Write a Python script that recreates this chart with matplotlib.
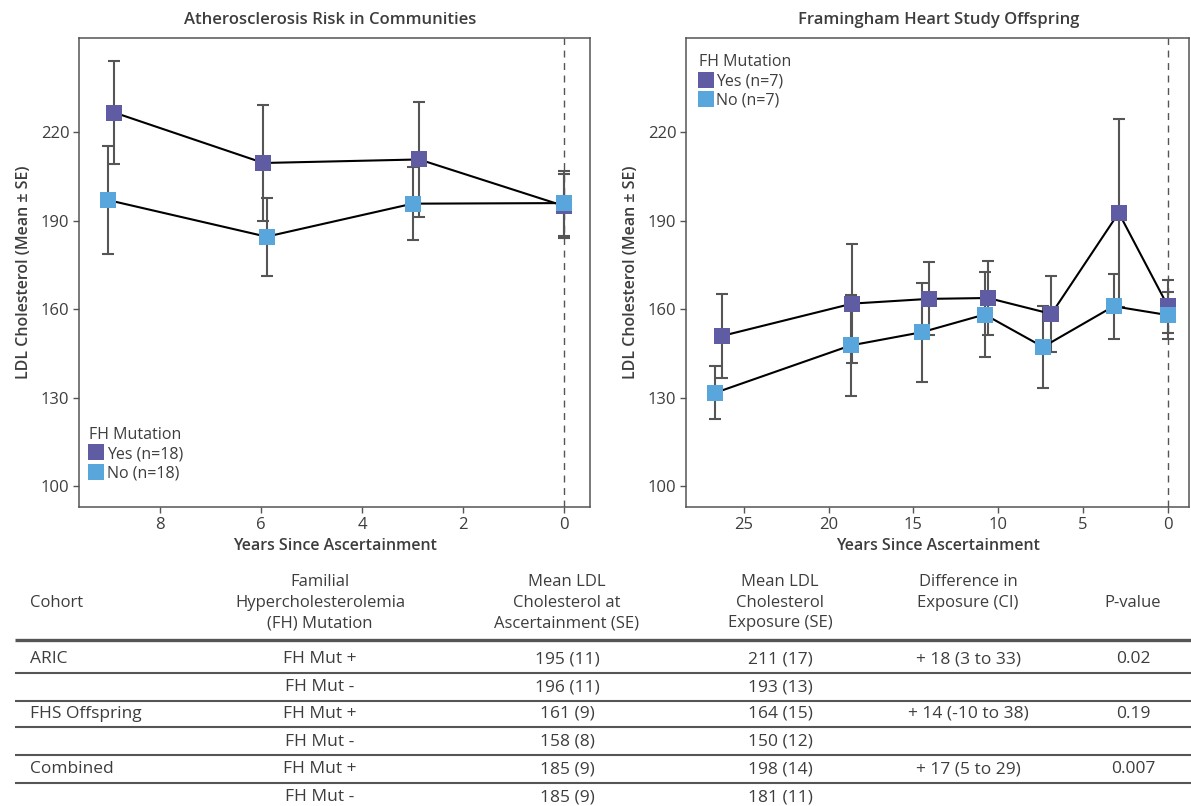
import matplotlib
matplotlib.use("Agg")
import matplotlib.pyplot as plt
from matplotlib.lines import Line2D

plt.rcParams['font.family'] = ['Open Sans', 'DejaVu Sans']

# ---------------- data ----------------
aric_years_yes = [8.9, 5.95, 2.87, 0]
aric_ldl_yes = [226.7, 209.6, 210.8, 195]
aric_se_yes = [17.4, 19.8, 19.6, 11]
aric_years_no = [9.02, 5.89, 3.0, 0]
aric_ldl_no = [197.0, 184.6, 195.8, 196]
aric_se_no = [18.2, 13.2, 12.3, 11]

fhs_years_yes = [26.3, 18.6, 14.1, 10.6, 6.87, 2.9, 0]
fhs_ldl_yes = [150.9, 161.9, 163.5, 163.8, 158.4, 192.7, 161]
fhs_se_yes = [14.3, 20.3, 12.4, 12.5, 12.8, 31.8, 9]
fhs_years_no = [26.7, 18.7, 14.5, 10.8, 7.36, 3.2, 0]
fhs_ldl_no = [131.6, 147.7, 152.2, 158.2, 147.2, 161.0, 158]
fhs_se_no = [9, 17, 16.8, 14.3, 13.8, 11.1, 8]

aric_xticks = [8, 6, 4, 2, 0]
fhs_xticks = [25, 20, 15, 10, 5, 0]
yticks = [100, 130, 160, 190, 220]

aric_labels = ["Yes (n=18)", "No (n=18)"]
fhs_labels = ["Yes (n=7)", "No (n=7)"]

table_header = [
    ["Cohort"],
    ["Familial", "Hypercholesterolemia", "(FH) Mutation"],
    ["Mean LDL", "Cholesterol at", "Ascertainment (SE)"],
    ["Mean LDL", "Cholesterol", "Exposure (SE)"],
    ["Difference in", "Exposure (CI)"],
    ["P-value"],
]
table_cohort = ["ARIC", "", "FHS Offspring", "", "Combined", ""]
table_mutation = ["FH Mut +", "FH Mut -", "FH Mut +", "FH Mut -", "FH Mut +", "FH Mut -"]
table_ldl_asc = ["195 (11)", "196 (11)", "161 (9)", "158 (8)", "185 (9)", "185 (9)"]
table_ldl_exp = ["211 (17)", "193 (13)", "164 (15)", "150 (12)", "198 (14)", "181 (11)"]
table_diff = ["+ 18 (3 to 33)", "", "+ 14 (-10 to 38)", "", "+ 17 (5 to 29)", ""]
table_p = ["0.02", "", "0.19", "", "0.007", ""]

# ---------------- style ----------------
PURPLE = "#605ca3"
BLUE = "#58a6dc"
GRAY = "#555555"
TXT = "#3d3d3d"

W, H = 1191, 806
fig = plt.figure(figsize=(W / 100, H / 100), dpi=100)


def px_axes(x0, y0, x1, y1):
    return fig.add_axes([x0 / W, 1 - y1 / H, (x1 - x0) / W, (y1 - y0) / H])


def draw_panel(ax, yx, yy, ys, nx, ny, ns, xlim, xticks, labels, legend_loc, legend_anchor):
    ax.errorbar(yx, yy, yerr=ys, fmt='none', ecolor=GRAY, elinewidth=1.5,
                capsize=4, capthick=1.5, zorder=2)
    ax.errorbar(nx, ny, yerr=ns, fmt='none', ecolor=GRAY, elinewidth=1.5,
                capsize=4, capthick=1.5, zorder=2)
    ax.plot(yx, yy, color='black', lw=1.5, zorder=3)
    ax.plot(nx, ny, color='black', lw=1.5, zorder=3)
    ax.plot(yx, yy, 's', color=PURPLE, ms=11, mew=0, zorder=4)
    ax.plot(nx, ny, 's', color=BLUE, ms=11, mew=0, zorder=5)
    ax.axvline(0, color=GRAY, lw=1, ls=(0, (5, 4)), zorder=1)
    ax.set_xlim(*xlim)
    ax.set_ylim(92.9, 252)
    ax.set_xticks(xticks)
    ax.set_yticks(yticks)
    for s in ax.spines.values():
        s.set_color(GRAY)
        s.set_linewidth(1.1)
    ax.tick_params(colors=GRAY, labelcolor=TXT, labelsize=12, length=4, width=1, pad=3)
    ax.set_xlabel("Years Since Ascertainment", fontsize=11.5, fontweight='semibold',
                  color=TXT, labelpad=4)
    ax.set_ylabel("LDL Cholesterol (Mean \u00b1 SE)", fontsize=11.5, fontweight='semibold',
                  color=TXT, labelpad=6)
    handles = [Line2D([], [], marker='s', ls='none', color=PURPLE, ms=11.5, mew=0),
               Line2D([], [], marker='s', ls='none', color=BLUE, ms=11.5, mew=0)]
    leg = ax.legend(handles, labels, title="FH Mutation", loc=legend_loc,
                    bbox_to_anchor=legend_anchor, frameon=False, fontsize=11.5,
                    title_fontsize=11.5, handlelength=0.9, handletextpad=0.2,
                    labelspacing=0.2, borderaxespad=0, borderpad=0, alignment='left')
    for t in leg.get_texts():
        t.set_color(TXT)
    leg.get_title().set_color(TXT)


ax1 = px_axes(79, 38, 590, 507)
draw_panel(ax1, aric_years_yes, aric_ldl_yes, aric_se_yes,
           aric_years_no, aric_ldl_no, aric_se_no,
           (9.6, -0.51), aric_xticks, aric_labels, 'lower left', (0.02, 0.055))

ax2 = px_axes(686, 38, 1189, 507)
draw_panel(ax2, fhs_years_yes, fhs_ldl_yes, fhs_se_yes,
           fhs_years_no, fhs_ldl_no, fhs_se_no,
           (28.4, -1.24), fhs_xticks, fhs_labels, 'upper left', (0.025, 0.965))

fig.text(330 / W, 1 - 20 / H, "Atherosclerosis Risk in Communities", ha='center', va='center',
         fontsize=12, fontweight='semibold', color=TXT)
fig.text(939 / W, 1 - 20 / H, "Framingham Heart Study Offspring", ha='center', va='center',
         fontsize=12, fontweight='semibold', color=TXT)

# ---------------- table ----------------
tax = fig.add_axes([0, 0, 1, 1])
tax.set_xlim(0, W)
tax.set_ylim(H, 0)
tax.axis('off')

col_x = [30, 320, 567, 780, 968, 1133]
col_ha = ['left', 'center', 'center', 'center', 'center', 'center']
head_line_y = [582, 603, 623]
for ci, lines in enumerate(table_header):
    if len(lines) == 1:
        ys = [603]
    else:
        ys = head_line_y[:len(lines)]
    for txt, yv in zip(lines, ys):
        tax.text(col_x[ci], yv, txt, ha=col_ha[ci], va='center', fontsize=12, color=TXT)

row_y = [659, 687, 714, 742, 769, 797]
cols = [table_cohort, table_mutation, table_ldl_asc, table_ldl_exp, table_diff, table_p]
for ci, col in enumerate(cols):
    for ri, txt in enumerate(col):
        if txt:
            tax.text(col_x[ci], row_y[ri], txt, ha=col_ha[ci], va='center',
                     fontsize=12.5, color=TXT)

rule_y = [640, 673, 701, 727, 755, 783]
for i, yv in enumerate(rule_y):
    tax.plot([15, W], [yv, yv], color=GRAY, lw=2.4 if i == 0 else 1.5,
             solid_capstyle='butt')

fig.savefig("out.png", dpi=100)
